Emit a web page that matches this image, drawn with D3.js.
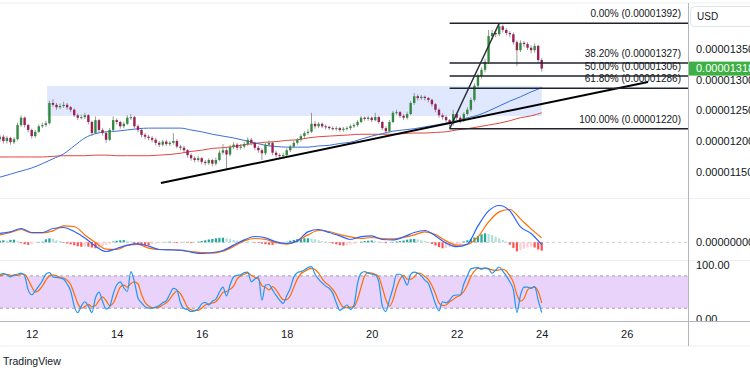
<!DOCTYPE html>
<meta charset="utf-8">
<style>
body { margin: 0; background: #fff; }
text { font-family: "Liberation Sans", Arial, sans-serif; fill: #131722; }
</style>
<svg width="750" height="375"></svg>
<script src="https://d3js.org/d3.v7.min.js"></script>
<script>

// prices in units of 1e-8 USD, 2h candles starting at day 11, 06:00
var startDay = 11.25, candleStep = 1 / 12;
var firstOpen = 1203;
var closes = [1207,1200,1205,1198,1203,1226,1238,1226,1218,1208,
  1215,1224,1226,1229,1262,1259,1255,1257,1259,1255,
  1251,1242,1238,1239,1242,1231,1213,1234,1218,1213,
  1202,1218,1234,1231,1224,1228,1238,1239,1224,1218,
  1210,1207,1205,1202,1197,1194,1199,1195,1197,1200,
  1191,1189,1185,1177,1172,1169,1172,1166,1164,1169,
  1163,1169,1181,1185,1178,1190,1194,1189,1191,1195,
  1202,1197,1189,1185,1180,1194,1197,1181,1177,1176,
  1177,1185,1191,1197,1202,1208,1213,1215,1228,1224,
  1228,1224,1223,1221,1220,1221,1218,1220,1221,1224,
  1226,1231,1238,1236,1238,1234,1239,1231,1221,1216,
  1231,1246,1247,1241,1238,1244,1262,1273,1270,1272,
  1270,1267,1260,1251,1242,1239,1234,1228,1244,1238,
  1234,1244,1251,1267,1290,1306,1316,1329,1371,1376,
  1374,1387,1381,1376,1374,1361,1348,1360,1358,1352,
  1348,1355,1332,1318];
var highs = [1211,1210,1208,1207,1206,1230,1242,1240,1228,1220,
  1218,1227,1230,1233,1266,1268,1262,1261,1264,1262,
  1257,1253,1245,1243,1246,1244,1233,1240,1236,1221,
  1215,1221,1240,1237,1233,1231,1242,1244,1241,1227,
  1220,1213,1210,1208,1205,1200,1202,1202,1200,1213,
  1203,1194,1192,1187,1180,1175,1176,1174,1169,1172,
  1171,1173,1185,1195,1188,1194,1198,1197,1195,1199,
  1206,1205,1199,1192,1188,1197,1201,1199,1184,1180,
  1181,1188,1194,1200,1205,1211,1216,1219,1246,1232,
  1231,1230,1227,1225,1224,1224,1223,1223,1224,1227,
  1229,1234,1241,1240,1241,1240,1246,1241,1233,1224,
  1234,1249,1251,1249,1244,1248,1265,1278,1276,1275,
  1274,1272,1269,1262,1253,1245,1242,1236,1251,1246,
  1241,1247,1255,1271,1294,1310,1320,1334,1381,1381,
  1380,1392,1390,1384,1379,1377,1364,1364,1363,1361,
  1356,1359,1357,1335];
var lows = [1199,1196,1196,1194,1195,1201,1223,1222,1214,1204,
  1205,1213,1221,1223,1227,1256,1251,1252,1254,1251,
  1247,1239,1234,1235,1236,1227,1208,1211,1214,1209,
  1197,1200,1216,1227,1220,1221,1226,1234,1221,1214,
  1206,1203,1201,1198,1193,1190,1191,1192,1192,1194,
  1188,1185,1181,1173,1168,1165,1166,1162,1160,1161,
  1159,1160,1167,1178,1153,1175,1187,1185,1186,1188,
  1192,1193,1185,1181,1169,1177,1191,1177,1173,1172,
  1172,1174,1182,1188,1194,1199,1205,1210,1213,1220,
  1221,1221,1219,1218,1217,1217,1215,1215,1217,1218,
  1221,1223,1229,1233,1233,1231,1232,1228,1218,1212,
  1214,1229,1243,1238,1234,1235,1242,1259,1266,1267,
  1266,1263,1256,1247,1238,1235,1230,1220,1225,1234,
  1229,1231,1241,1248,1264,1286,1302,1312,1326,1366,
  1369,1371,1377,1372,1369,1357,1322,1345,1353,1348,
  1343,1344,1328,1313];

// moving averages, one point every 3rd candle (6h)
var maStep = 3;
var maBlue = [1141,1146,1151,1156,1163,1171,1179,1192,1205,1212,
  1215,1216,1218,1220,1221,1221,1221,1221,1218,1215,
  1211,1208,1205,1201,1197,1193,1191,1190,1190,1190,
  1192,1193,1196,1198,1203,1208,1212,1216,1218,1220,
  1223,1226,1229,1233,1238,1242,1249,1257,1265,1272,
  1280,1287];
var maRed = [1174,1174,1174,1174,1174,1175,1176,1176,1176,1177,
  1177,1176,1176,1176,1176,1177,1178,1180,1183,1185,
  1188,1189,1191,1194,1196,1198,1199,1201,1202,1205,
  1207,1208,1209,1210,1211,1211,1211,1211,1212,1213,
  1213,1214,1215,1218,1220,1223,1226,1229,1233,1238,
  1241,1246];

// MACD in units of 1e-9, lines every 6h, histogram every candle
var macdLine = [4.5,5.2,6.9,4.9,4.9,6.9,7.4,5.4,2.2,-1.9,
  -4.6,-3.1,-1.4,-0.8,-1.9,-3.6,-3.8,-3.9,-4.9,-5.6,
  -5.1,-4.1,-1.4,1.2,2.9,2.2,0.2,-0.6,0.7,5.2,
  6.4,4.9,3.2,1.4,2.8,3.2,1.4,1.2,2.7,4.9,
  5.9,3.2,-0.4,-2.2,-0.9,8.2,15.7,18.4,15.7,7.7,
  4.4,-1.2];
var signalLine = [3.7,4.9,6.4,4.7,4.7,5.7,8.2,7.9,3.7,-0.1,
  -3.4,-3.6,-1.6,-1.1,-2.9,-3.6,-3.6,-4.1,-4.6,-5.1,
  -5.4,-4.4,-2.1,0.7,1.9,1.4,-0.1,-0.9,0.7,3.7,
  5.9,5.4,3.9,2.7,1.9,2.4,1.9,1.7,2.4,3.7,
  5.2,3.9,0.7,-1.4,-1.1,2.7,10.2,15.2,16.4,11.7,
  6.7,2.2];
var macdHist = [0.8,1.0,0.8,1.2,1.3,0.6,-0.4,-1.0,-1.3,-1.0,
  -0.3,0.2,0.3,1.5,2.0,1.8,1.0,0.5,-0.3,-0.6,
  -1.0,-1.5,-2.0,-2.2,-2.0,-2.2,-2.6,-3.0,-2.8,-2.0,
  -1.4,-0.8,0.4,0.8,1.0,1.1,0.7,0.4,-0.8,-1.2,
  -1.3,-1.4,-1.5,-1.0,-0.6,-0.4,-0.2,0.2,0.3,-0.2,
  -0.4,-0.3,0.2,-0.2,-0.4,-0.3,0.3,0.6,1.0,1.4,
  1.7,2.0,2.2,2.3,2.0,1.6,1.2,0.8,0.6,0.5,
  0.4,0.2,-0.2,-0.3,-0.6,-1.0,-1.2,-1.3,-1.0,-0.6,
  -0.3,0.3,0.8,1.2,1.6,1.8,2.0,2.0,1.9,1.5,
  1.0,0.6,0.3,-0.2,-0.6,-1.0,-1.4,-1.6,-1.5,-1.2,
  -0.8,-0.3,0.3,0.6,0.8,0.9,0.6,0.3,-0.2,-0.4,
  -0.3,0.2,0.4,0.6,0.9,1.3,1.6,1.7,1.5,1.0,
  0.6,0.2,-0.8,-1.6,-2.4,-3.0,-2.8,-2.4,-2.0,-1.6,
  -1.2,0.4,1.0,1.6,2.4,3.2,4.0,4.5,4.2,3.6,
  2.8,2.0,1.2,0.2,-1.2,-2.8,-4.5,-4.0,-3.2,-2.6,
  -2.2,-2.6,-3.6,-4.2];

// Stoch RSI, every candle
var stochK = [82,84,82,78,82,83,85,80,54,45,
  52,61,71,83,86,78,77,76,74,65,
  52,24,12,24,32,24,12,39,50,33,
  18.5,23,46,63,69,58,51,88,69,39,
  30,23,20,20,22,25,30,34,46,57,
  54,30,19.5,17.6,14,15,18.5,28,31,26,
  33,37,50,59,43,63,78,81,82,86,
  87,69,74,78,35,63,64,54,44,35,
  29,43,57,78,86,88,91,95.5,97,83,
  74,67,61,57,48,30,16,21,26,18,
  26,66,85,88,85,83,82,69,24,14,
  35,57,83,83,76,63,83,87,85,80,
  72,66,48,28,15,32,30,35,43,44.5,
  44.5,65,80,93,95,95.5,92,95,93,85,
  91,96.5,89,80,69,54,12,44,59,59,
  57,60,35,12];
var stochD = [80,82,83,81,81,81,83,83,73,60,
  50,53,61,72,80,82,80,77,76,72,
  64,47,29,20,23,27,23,25,34,41,
  34,25,29,44,59,63,59,66,69,65,
  46,31,24,21,21,22,26,30,37,46,
  52,47,35,22,17,16,16,20,26,28,
  30,32,40,49,51,55,61,74,80,83,
  85,81,77,74,62,59,54,60,54,44,
  36,36,43,59,74,84,88,92,94,92,
  85,75,67,62,55,45,31,22,21,22,
  23,37,59,80,86,85,83,78,58,36,
  24,35,58,74,81,74,74,78,85,84,
  79,73,62,47,30,25,26,32,36,41,
  44,51,63,79,89,94,94,94,93,91,
  90,91,92,89,80,68,45,33,38,54,
  58,59,51,30];

var dayTicks = [12, 14, 16, 18, 20, 22, 24, 26];
var priceTicks = [1150, 1200, 1250, 1300, 1350];
var fibLevels = [0, 0.382, 0.5, 0.618, 1];
var fibPrices = [1392, 1327, 1306, 1286, 1220];
var fibLow = 127, fibHigh = 141;            // candle index of swing low / high
var trendLine = [[15.04, 1131.6], [26.5, 1296.2]];
var zone = { t0: 12.36, t1: 24.0, p0: 1240.8, p1: 1289.7 };

var svg = d3.select("svg");
var W = 750, plotR = 688;

var x = d3.scaleLinear().domain([11.254, 27.442]).range([0, plotR]);
var y = d3.scaleLinear().domain([1107.1, 1423.3]).range([198, 4]);
var yM = d3.scaleLinear().domain([-8.85, 22.15]).range([260, 198]);
var yS = d3.scaleLinear().domain([0, 100]).range([319, 265.1]);

function tAt(i) { return startDay + i * candleStep; }
function toUsd(p) { return (p * 1e-8).toFixed(8); }

var defs = svg.append("defs");
function clip(id, x0, y0, w, h) {
  defs.append("clipPath").attr("id", id).append("rect")
    .attr("x", x0).attr("y", y0).attr("width", w).attr("height", h);
}
clip("cMain", 0, 4, plotR, 194);
clip("cMacd", 0, 199, plotR, 61);
clip("cStoch", 0, 261, plotR, 60);
clip("cAxisStoch", plotR, 261, 62, 60);

// pane borders
var borders = svg.append("g");
[3, 198.5, 260.5].forEach(function (yy) {
  borders.append("line").attr("x1", 0).attr("x2", W).attr("y1", yy).attr("y2", yy)
    .attr("stroke", "#eceef2").attr("stroke-width", 1);
});
borders.append("line").attr("x1", 0).attr("x2", W).attr("y1", 321.5).attr("y2", 321.5)
  .attr("stroke", "#b2b5be");
borders.append("line").attr("x1", 0).attr("x2", W).attr("y1", 346).attr("y2", 346)
  .attr("stroke", "#eceef2");
borders.append("line").attr("x1", plotR + 0.5).attr("x2", plotR + 0.5).attr("y1", 3).attr("y2", 346)
  .attr("stroke", "#b2b5be");

// ---- main pane
var gMain = svg.append("g").attr("clip-path", "url(#cMain)");

gMain.append("rect")
  .attr("x", x(zone.t0)).attr("y", y(zone.p1))
  .attr("width", x(zone.t1) - x(zone.t0)).attr("height", y(zone.p0) - y(zone.p1))
  .attr("fill", "rgba(41,98,255,0.15)");

var maLine = d3.line()
  .x(function (d, i) { return x(tAt(i * maStep)); })
  .y(function (d) { return y(d); })
  .curve(d3.curveMonotoneX);

gMain.append("path").datum(maRed).attr("d", maLine)
  .attr("fill", "none").attr("stroke", "#e0463f").attr("stroke-width", 1);
gMain.append("path").datum(maBlue).attr("d", maLine)
  .attr("fill", "none").attr("stroke", "#3a6fd8").attr("stroke-width", 1);

var candles = closes.map(function (c, i) {
  return { t: tAt(i), o: i ? closes[i - 1] : firstOpen, h: highs[i], l: lows[i], c: c };
});
var cg = gMain.append("g").selectAll("g").data(candles).enter().append("g");
cg.append("line")
  .attr("x1", function (d) { return x(d.t); }).attr("x2", function (d) { return x(d.t); })
  .attr("y1", function (d) { return y(d.h); }).attr("y2", function (d) { return y(d.l); })
  .attr("stroke", "#808080").attr("stroke-width", 0.8);
cg.append("rect")
  .attr("x", function (d) { return x(d.t) - 1.2; })
  .attr("width", 2.4)
  .attr("y", function (d) { return y(Math.max(d.o, d.c)); })
  .attr("height", function (d) { return Math.max(1, Math.abs(y(d.o) - y(d.c))); })
  .attr("fill", function (d) { return d.c >= d.o ? "#338a3e" : "#9c1f55"; });

// rising trend line
gMain.append("line")
  .attr("x1", x(trendLine[0][0])).attr("y1", y(trendLine[0][1]))
  .attr("x2", x(trendLine[1][0])).attr("y2", y(trendLine[1][1]))
  .attr("stroke", "#000").attr("stroke-width", 2);

// fibonacci retracement
var fx0 = x(tAt(fibLow));
var fib = gMain.append("g");
fibLevels.forEach(function (lv, k) {
  var yy = y(fibPrices[k]);
  fib.append("line").attr("x1", fx0).attr("x2", plotR).attr("y1", yy).attr("y2", yy)
    .attr("stroke", "#1e222d").attr("stroke-width", 1.5);
  fib.append("text").attr("x", 681).attr("y", yy - 6)
    .attr("text-anchor", "end").style("font-size", "10px")
    .text((lv * 100).toFixed(2) + "% (" + toUsd(fibPrices[k]) + ")");
});
fib.append("line")
  .attr("x1", fx0).attr("y1", y(fibPrices[4]))
  .attr("x2", x(tAt(fibHigh))).attr("y2", y(fibPrices[0]))
  .attr("stroke", "#2a2e39").attr("stroke-width", 1.5);

// price axis
var pAxis = svg.append("g").attr("transform", "translate(" + plotR + ",0)")
  .call(d3.axisRight(y).tickValues(priceTicks).tickSize(0).tickPadding(8).tickFormat(toUsd));
pAxis.select(".domain").remove();
pAxis.selectAll("text").style("font-size", "11px").style("font-family", "'Liberation Sans', Arial, sans-serif").attr("fill", "#131722");

var last = closes[closes.length - 1];
svg.append("rect").attr("x", plotR + 1).attr("y", y(last) - 7).attr("width", W - plotR).attr("height", 14)
  .attr("fill", "#3cb043");
svg.append("text").attr("x", plotR + 8).attr("y", y(last)).attr("dy", "0.35em")
  .style("font-size", "11px").style("fill", "#fff").text(toUsd(last));

svg.append("rect").attr("x", plotR + 2.5).attr("y", 6.5).attr("width", 70).attr("height", 20).attr("rx", 4)
  .attr("fill", "#fff").attr("stroke", "#e0e3eb");
svg.append("text").attr("x", plotR + 9).attr("y", 16.5).attr("dy", "0.35em")
  .style("font-size", "10px").text("USD");

// ---- MACD pane
var gMacd = svg.append("g").attr("clip-path", "url(#cMacd)");
gMacd.append("line").attr("x1", 0).attr("x2", plotR).attr("y1", yM(0)).attr("y2", yM(0))
  .attr("stroke", "#c9cbd1").attr("stroke-dasharray", "3,3");
gMacd.selectAll("rect").data(macdHist).enter().append("rect")
  .attr("x", function (d, i) { return x(tAt(i)) - 1.1; })
  .attr("width", 2.2)
  .attr("y", function (d) { return Math.min(yM(d), yM(0)); })
  .attr("height", function (d) { return Math.abs(yM(d) - yM(0)); })
  .attr("fill", function (d, i) {
    var prev = i ? macdHist[i - 1] : d;
    if (d >= 0) return d >= prev ? "#26a69a" : "#b2dfdb";
    return d <= prev ? "#ff5252" : "#ffcdd2";
  });
var mLine = d3.line()
  .x(function (d, i) { return x(tAt(i * maStep)); })
  .y(function (d) { return yM(d); })
  .curve(d3.curveMonotoneX);
gMacd.append("path").datum(signalLine).attr("d", mLine)
  .attr("fill", "none").attr("stroke", "#ff6d00").attr("stroke-width", 1.2);
gMacd.append("path").datum(macdLine).attr("d", mLine)
  .attr("fill", "none").attr("stroke", "#2962ff").attr("stroke-width", 1.2);

var mAxis = svg.append("g").attr("transform", "translate(" + plotR + ",0)")
  .call(d3.axisRight(yM).tickValues([0]).tickSize(0).tickPadding(8).tickFormat(function (d) { return (d * 1e-9).toFixed(8); }));
mAxis.select(".domain").remove();
mAxis.selectAll("text").style("font-size", "11px").style("font-family", "'Liberation Sans', Arial, sans-serif").attr("fill", "#131722");

// ---- Stoch RSI pane
var gSt = svg.append("g").attr("clip-path", "url(#cStoch)");
gSt.append("rect").attr("x", 0).attr("width", plotR)
  .attr("y", yS(80)).attr("height", yS(20) - yS(80)).attr("fill", "#e9d3fb");
[80, 20].forEach(function (v) {
  gSt.append("line").attr("x1", 0).attr("x2", plotR).attr("y1", yS(v)).attr("y2", yS(v))
    .attr("stroke", "#8f8a9c").attr("stroke-dasharray", "3,3").attr("stroke-width", 0.8);
});
var sLine = d3.line()
  .x(function (d, i) { return x(tAt(i)); })
  .y(function (d) { return yS(d); })
  .curve(d3.curveMonotoneX);
gSt.append("path").datum(stochD).attr("d", sLine)
  .attr("fill", "none").attr("stroke", "#ff6d00").attr("stroke-width", 1.2);
gSt.append("path").datum(stochK).attr("d", sLine)
  .attr("fill", "none").attr("stroke", "#2196f3").attr("stroke-width", 1.2);

var sAxis = svg.append("g").attr("clip-path", "url(#cAxisStoch)").append("g")
  .attr("transform", "translate(" + plotR + ",0)")
  .call(d3.axisRight(yS).tickValues([0, 100]).tickSize(0).tickPadding(8).tickFormat(d3.format(".2f")));
sAxis.select(".domain").remove();
sAxis.selectAll("text").style("font-size", "11px").style("font-family", "'Liberation Sans', Arial, sans-serif").attr("fill", "#131722");

// ---- time axis
var tAxis = svg.append("g").attr("transform", "translate(0,321)")
  .call(d3.axisBottom(x).tickValues(dayTicks).tickSize(0).tickPadding(9).tickFormat(d3.format("d")));
tAxis.select(".domain").remove();
tAxis.selectAll("text").style("font-size", "11px").style("font-family", "'Liberation Sans', Arial, sans-serif").attr("fill", "#131722");

svg.append("text").attr("x", 3).attr("y", 361).attr("dy", "0.35em")
  .style("font-size", "10.5px").text("TradingView");

</script>
